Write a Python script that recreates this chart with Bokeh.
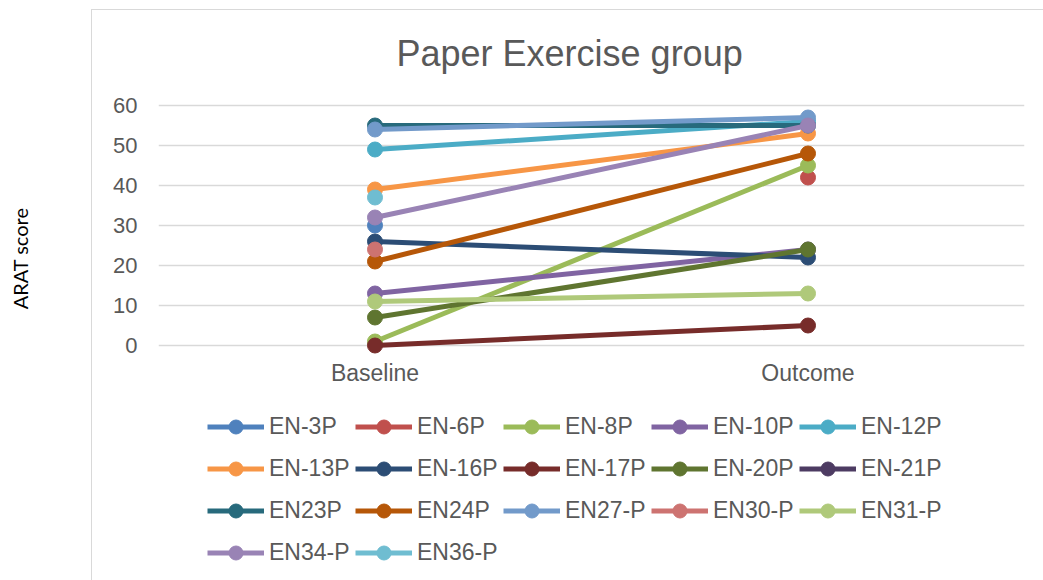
import math
from bokeh.plotting import figure
from bokeh.models import FactorRange, Range1d, Legend, LegendItem, Div, Spacer
from bokeh.layouts import row, column
from bokeh.embed import file_html
from bokeh.resources import INLINE

categories = ["Baseline", "Outcome"]
series_names = ["EN-3P", "EN-6P", "EN-8P", "EN-10P", "EN-12P",
                "EN-13P", "EN-16P", "EN-17P", "EN-20P", "EN-21P",
                "EN23P", "EN24P", "EN27-P", "EN30-P", "EN31-P",
                "EN34-P", "EN36-P"]
baseline_scores = [30, None, 1, 13, 49,
                   39, 26, 0, 7, None,
                   55, 21, 54, 24, 11,
                   32, 37]
outcome_scores = [None, 42, 45, 24, 56,
                  53, 22, 5, 24, None,
                  55, 48, 57, None, 13,
                  55, None]
series_colors = ["#4F81BD", "#C0504D", "#9BBB59", "#8064A2", "#4BACC6",
                 "#F79646", "#2C4D75", "#772C2A", "#5F7530", "#4D3B62",
                 "#276A7C", "#B65708", "#729ACA", "#CD7371", "#AFC97A",
                 "#9983B5", "#6FBDD1"]
y_ticks = [0, 10, 20, 30, 40, 50, 60]

FONT = "Liberation Sans"
GREY = "#595959"
BORDER = "#d9d9d9"

p = figure(width=952, height=571,
           x_range=FactorRange(*categories, range_padding=0),
           y_range=Range1d(-59, 62.75),
           output_backend="svg", toolbar_location=None,
           min_border_left=66, min_border_right=20,
           min_border_top=84, min_border_bottom=0,
           title="Paper Exercise group",
           margin=0,
           styles={"border-left": "1px solid " + BORDER,
                   "border-top": "1px solid " + BORDER})
p.outline_line_color = None
p.background_fill_color = "white"
p.border_fill_color = "white"

p.title.text_font = FONT
p.title.text_font_size = "36px"
p.title.text_font_style = "normal"
p.title.text_color = GREY
p.title.align = "left"
p.title.offset = 238
p.title.standoff = 41

p.xgrid.grid_line_color = None
p.ygrid.ticker = y_ticks
p.ygrid.grid_line_color = BORDER
p.ygrid.grid_line_width = 1.5

p.yaxis.ticker = y_ticks
p.yaxis.axis_line_color = None
p.yaxis.major_tick_line_color = None
p.yaxis.major_tick_out = 0
p.yaxis.minor_tick_line_color = None
p.yaxis.major_label_text_font = FONT
p.yaxis.major_label_text_font_size = "22px"
p.yaxis.major_label_text_color = GREY
p.yaxis.major_label_standoff = 21

p.xaxis.fixed_location = 0
p.xaxis.axis_line_color = None
p.xaxis.major_tick_line_color = None
p.xaxis.major_tick_out = 0
p.xaxis.minor_tick_line_color = None
p.xaxis.major_label_text_font = FONT
p.xaxis.major_label_text_font_size = "23px"
p.xaxis.major_label_text_color = GREY
p.xaxis.major_label_standoff = 14

items = []
for name, b, o, c in zip(series_names, baseline_scores, outcome_scores, series_colors):
    ys = [math.nan if v is None else v for v in (b, o)]
    src = dict(x=categories, y=ys)
    r_line = p.line(x="x", y="y", source=src, line_color=c, line_width=5)
    r_pt = p.scatter(x="x", y="y", source=src, size=15, fill_color=c, line_color=c)
    items.append(LegendItem(label=name, renderers=[r_line, r_pt]))

legend = Legend(items=items, orientation="horizontal", ncols=5,
                location=(49, 8), padding=0, margin=0, spacing=0,
                glyph_width=57, glyph_height=35, label_height=42,
                label_width=86, label_standoff=5,
                label_text_font=FONT, label_text_font_size="23px",
                label_text_color=GREY,
                background_fill_alpha=0, border_line_color=None)
p.add_layout(legend, "center")

ylabel = Div(text='<div style="writing-mode: vertical-rl; transform: rotate(180deg); '
                  'margin-left: 8px; margin-top: 208px; font-family: Lato; '
                  'font-size: 20px; line-height: 24px; color: #000000; white-space: nowrap;">'
                  'ARAT score</div>',
             width=91, height=580, margin=0)

layout = row(ylabel,
             column(Spacer(width=952, height=9, margin=0), p, margin=0),
             margin=0, spacing=0)

open("out.html", "w").write(file_html(layout, INLINE))
